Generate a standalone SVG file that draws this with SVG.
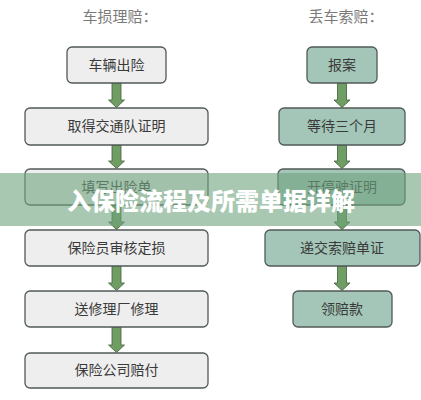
<svg xmlns="http://www.w3.org/2000/svg" width="421" height="400" viewBox="0 0 421 400">
<style>
.bg{fill:#ffffff}
.title{font-family:"Noto Sans CJK SC","Noto Sans",sans-serif;font-size:15px;fill:#7a7a7a;text-anchor:middle}
.n rect{stroke:#505a57;stroke-width:1.3}
.l rect{fill:#eeeeee}
.r rect{fill:#a4c6b8}
.n text{font-family:"Noto Sans CJK SC","Noto Sans",sans-serif;font-size:14px;fill:#3a3a3a;text-anchor:middle}
.arr polygon{fill:#6f9d63;stroke:#3f5f3a;stroke-width:0.8}
.banner{fill:#70a37f;fill-opacity:0.6}
.btext{font-family:"Noto Sans CJK SC","Noto Sans",sans-serif;font-size:24px;font-weight:900;fill:#ffffff;text-anchor:middle}
</style>
<rect class="bg" x="0" y="0" width="421" height="400"/>
<text class="title" x="120" y="22">车损理赔：</text>
<text class="title" x="346" y="22">丢车索赔：</text>
<g id="connectors" class="arr">
<polygon points="112,83 121,83 121,100 124.5,100 116.5,107.5 108.5,100 112,100"/>
<polygon points="112,145 121,145 121,161 124.5,161 116.5,168.5 108.5,161 112,161"/>
<polygon points="112,205 121,205 121,222 124.5,222 116.5,229.5 108.5,222 112,222"/>
<polygon points="112,266 121,266 121,283 124.5,283 116.5,290.5 108.5,283 112,283"/>
<polygon points="112,327 121,327 121,345 124.5,345 116.5,352.5 108.5,345 112,345"/>
<polygon points="337.5,83 346.5,83 346.5,100 350,100 342,107.5 334,100 337.5,100"/>
<polygon points="337.5,145 346.5,145 346.5,161 350,161 342,168.5 334,161 337.5,161"/>
<polygon points="337.5,205 346.5,205 346.5,222 350,222 342,229.5 334,222 337.5,222"/>
<polygon points="337.5,266 346.5,266 346.5,283 350,283 342,290.5 334,283 337.5,283"/>
</g>
<g id="l1" class="n l"><rect x="67" y="47" width="99" height="36" rx="5"/><text x="116.5" y="70">车辆出险</text></g>
<g id="l2" class="n l"><rect x="25" y="108" width="183" height="37" rx="5"/><text x="116.5" y="131">取得交通队证明</text></g>
<g id="l3" class="n l"><rect x="25" y="169" width="183" height="36" rx="5"/><text x="116.5" y="192">填写出险单</text></g>
<g id="l4" class="n l"><rect x="25" y="230" width="183" height="36" rx="5"/><text x="116.5" y="253">保险员审核定损</text></g>
<g id="l5" class="n l"><rect x="25" y="291" width="183" height="36" rx="5"/><text x="116.5" y="314">送修理厂修理</text></g>
<g id="l6" class="n l"><rect x="25" y="353" width="183" height="35" rx="5"/><text x="116.5" y="375">保险公司赔付</text></g>
<g id="r1" class="n r"><rect x="307" y="47" width="70" height="36" rx="5"/><text x="342" y="70">报案</text></g>
<g id="r2" class="n r"><rect x="279" y="108" width="126" height="37" rx="5"/><text x="342" y="131">等待三个月</text></g>
<g id="r3" class="n r"><rect x="278" y="169" width="127" height="36" rx="5"/><text x="342" y="192">开停驶证明</text></g>
<g id="r4" class="n r"><rect x="265" y="230" width="155" height="36" rx="5"/><text x="342" y="253">递交索赔单证</text></g>
<g id="r5" class="n r"><rect x="293" y="291" width="99" height="36" rx="5"/><text x="342" y="314">领赔款</text></g>
<rect class="banner" x="0" y="173" width="421" height="53"/>
<text class="btext" x="211" y="210">入保险流程及所需单据详解</text>
</svg>
